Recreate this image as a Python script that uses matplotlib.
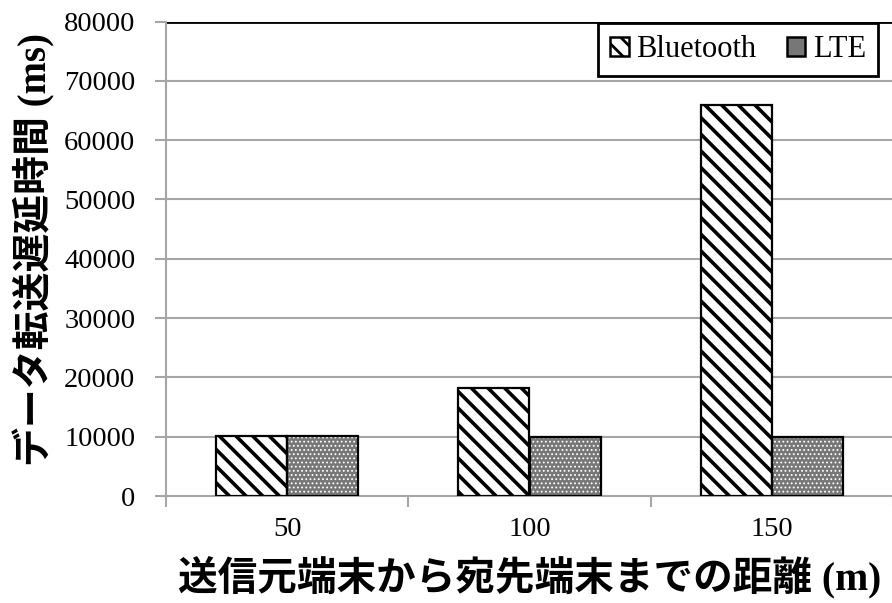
import numpy as np
import matplotlib
matplotlib.use("Agg")
import matplotlib.pyplot as plt
from matplotlib.patches import Patch

# Transfer delay per distance
distances = ["50", "100", "150"]
bluetooth_ms = [10200, 18200, 65900]
lte_ms = [10100, 10000, 10000]
y_ticks = [0, 10000, 20000, 30000, 40000, 50000, 60000, 70000, 80000]

serif = "Liberation Serif"
label_family = ["Liberation Serif", "Noto Sans CJK JP"]

fig = plt.figure(figsize=(8.92, 6.03), dpi=100)
ax = fig.add_axes([166 / 892, 1 - 496 / 603, 727 / 892, 474.5 / 603])

x = np.arange(len(distances))
w = 0.293
grid_gray = "#a6a6a6"
lte_face = "#777777"

def hatched_bars(xpos, vals, face, hatch, hatch_color, hatch_lw):
    bars = ax.bar(xpos, vals, w, color=face, edgecolor=hatch_color,
                  hatch=hatch, linewidth=0, zorder=3)
    for b in bars:
        if hasattr(b, "set_hatch_linewidth"):
            b.set_hatch_linewidth(hatch_lw)
    ax.bar(xpos, vals, w, fill=False, edgecolor="black", linewidth=1.6, zorder=4)
    return bars

plt.rcParams["hatch.linewidth"] = 2.6
hatched_bars(x - w / 2, bluetooth_ms, "white", "\\\\", "black", 2.6)
plt.rcParams["hatch.linewidth"] = 0.8
hatched_bars(x + w / 2, lte_ms, lte_face, "....", "white", 0.8)

ax.set_xlim(-0.5, 2.5)
ax.set_ylim(0, 80000)
ax.set_yticks(y_ticks)
ax.set_yticklabels([str(v) for v in y_ticks], fontfamily=serif, fontsize=20.5)
ax.set_xticks(x)
ax.set_xticklabels(distances, fontfamily=serif, fontsize=20.5)
ax.tick_params(axis="x", length=0, pad=15)
ax.tick_params(axis="y", length=8, width=1.5, color=grid_gray, pad=14)

# category boundary ticks on the x axis
ax.set_xticks([-0.5, 0.5, 1.5, 2.5], minor=True)
ax.tick_params(axis="x", which="minor", length=8, width=1.5, color=grid_gray)

for v in y_ticks[1:-1]:
    ax.axhline(v, color=grid_gray, linewidth=1.5, zorder=1)
ax.axhline(80000, color="black", linewidth=2, zorder=1)

for side in ("top", "right"):
    ax.spines[side].set_visible(False)
for side in ("left", "bottom"):
    ax.spines[side].set_color(grid_gray)
    ax.spines[side].set_linewidth(1.5)

# legend keys with their own outline
plt.rcParams["hatch.linewidth"] = 2.0
bt_key = Patch(facecolor="white", edgecolor="black", hatch="\\\\", linewidth=1.8)
lte_key = Patch(facecolor=lte_face, edgecolor="black", linewidth=1.8)
leg = ax.legend([bt_key, lte_key], ["Bluetooth", "LTE"], loc="upper right",
                bbox_to_anchor=(714 / 727, 1.0), ncol=2, frameon=True,
                fancybox=False, edgecolor="black", framealpha=1,
                prop={"family": serif, "size": 22}, handlelength=0.6,
                handleheight=0.6, handletextpad=0.25, columnspacing=1.0,
                borderpad=0.4, borderaxespad=0.05)
leg.get_frame().set_linewidth(2)
leg.set_zorder(6)

ax.set_ylabel("データ転送遅延時間 (ms)", fontfamily=label_family,
              fontweight="bold", fontsize=28)
ax.yaxis.set_label_coords(-0.152, 0.52)
ax.set_xlabel("送信元端末から宛先端末までの距離 (m)", fontfamily=label_family,
              fontweight="bold", fontsize=28.5, labelpad=10)

fig.savefig("out.png", dpi=100)
